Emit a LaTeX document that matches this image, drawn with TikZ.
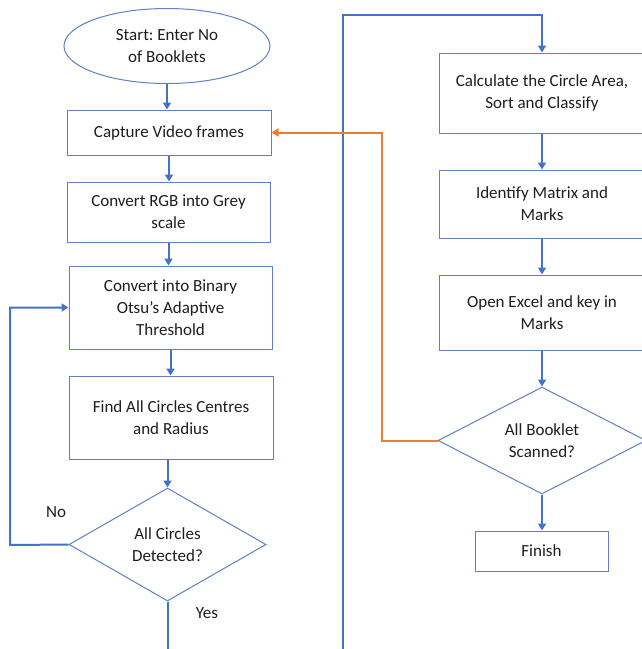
\documentclass[tikz,border=0pt]{standalone}
\usepackage{fontspec}
\setmainfont{Carlito}
\frenchspacing
\usetikzlibrary{arrows.meta,shapes.geometric}
\definecolor{flowblue}{HTML}{4472C4}
\definecolor{boxblue}{HTML}{6080C4}
\definecolor{floworange}{HTML}{ED7D31}
\definecolor{txt}{HTML}{1E1E1E}
\begin{document}
\begin{tikzpicture}[x=1pt,y=-1pt,
  font=\fontsize{17}{22}\selectfont,
  box/.style={draw=boxblue, line width=1pt, align=center, inner sep=0pt, text=txt},
  decision/.style={box, diamond, aspect=1.75},
  conn/.style={draw=flowblue, line width=2pt, -{Triangle[width=8pt,length=7pt]}},
  orconn/.style={draw=floworange, line width=2pt, -{Triangle[width=8pt,length=7pt]}},
  lbl/.style={text=txt, inner sep=0pt}]
\useasboundingbox (0,0) rectangle (642,649);
\clip (0,0) rectangle (642,649);
\fill[white] (0,0) rectangle (642,649);

% left column
\node[box, ellipse, minimum width=206, minimum height=75] (start) at (167,46) {Start: Enter No\\of Booklets};
\node[box, minimum width=204, minimum height=45] (cap) at (169,132.5) {Capture Video frames};
\node[box, minimum width=203, minimum height=60] (rgb) at (168.5,212) {Convert RGB into Grey\\scale};
\node[box, minimum width=203, minimum height=83] (bin) at (170.5,307.5) {Convert into Binary\\Otsu’s Adaptive\\Threshold};
\node[box, minimum width=204, minimum height=83] (find) at (171,417.5) {Find All Circles Centres\\and Radius};
\node[decision, minimum width=197, minimum height=113] (d1) at (167.5,544.5) {All Circles\\Detected?};

% right column
\node[box, minimum width=206, minimum height=80] (calc) at (542,93) {Calculate the Circle Area,\\Sort and Classify};
\node[box, minimum width=206, minimum height=68] (ident) at (542,204) {Identify Matrix and\\Marks};
\node[box, minimum width=206, minimum height=75] (excel) at (542,312.5) {Open Excel and key in\\Marks};
\node[decision, minimum width=208, minimum height=107] (d2) at (542,440.5) {All Booklet\\Scanned?};
\node[box, minimum width=133, minimum height=40] (fin) at (541.5,551) {Finish};

% labels
\node[lbl] (no) at (56,512) {No};
\node[lbl] (yes) at (207,613) {Yes};

% helper coordinates
\coordinate (noc) at (10,545);
\coordinate (ybot) at (167.5,670);
\coordinate (jbot) at (343,670);
\coordinate (jtop) at (343,15);
\coordinate (orc) at (382,440.5);

% connectors
\draw[conn] (start.south) -- (start.south |- cap.north);
\draw[conn] (cap.south) -- (cap.south |- rgb.north);
\draw[conn] (rgb.south) -- (rgb.south |- bin.north);
\draw[conn] (bin.south) -- (bin.south |- find.north);
\draw[conn] (find.south -| d1.north) -- (d1.north);
\draw[conn] (d1.west) -- (noc) |- (bin.west);
\draw[conn] (d1.south) -- (ybot) -- (jbot) -- (jtop) -| (calc.north);
\draw[conn] (calc.south) -- (ident.north);
\draw[conn] (ident.south) -- (excel.north);
\draw[conn] (excel.south) -- (d2.north);
\draw[conn] (d2.south) -- (d2.south |- fin.north);
\draw[orconn] (d2.west) -- (orc) |- (cap.east);
\end{tikzpicture}
\end{document}
